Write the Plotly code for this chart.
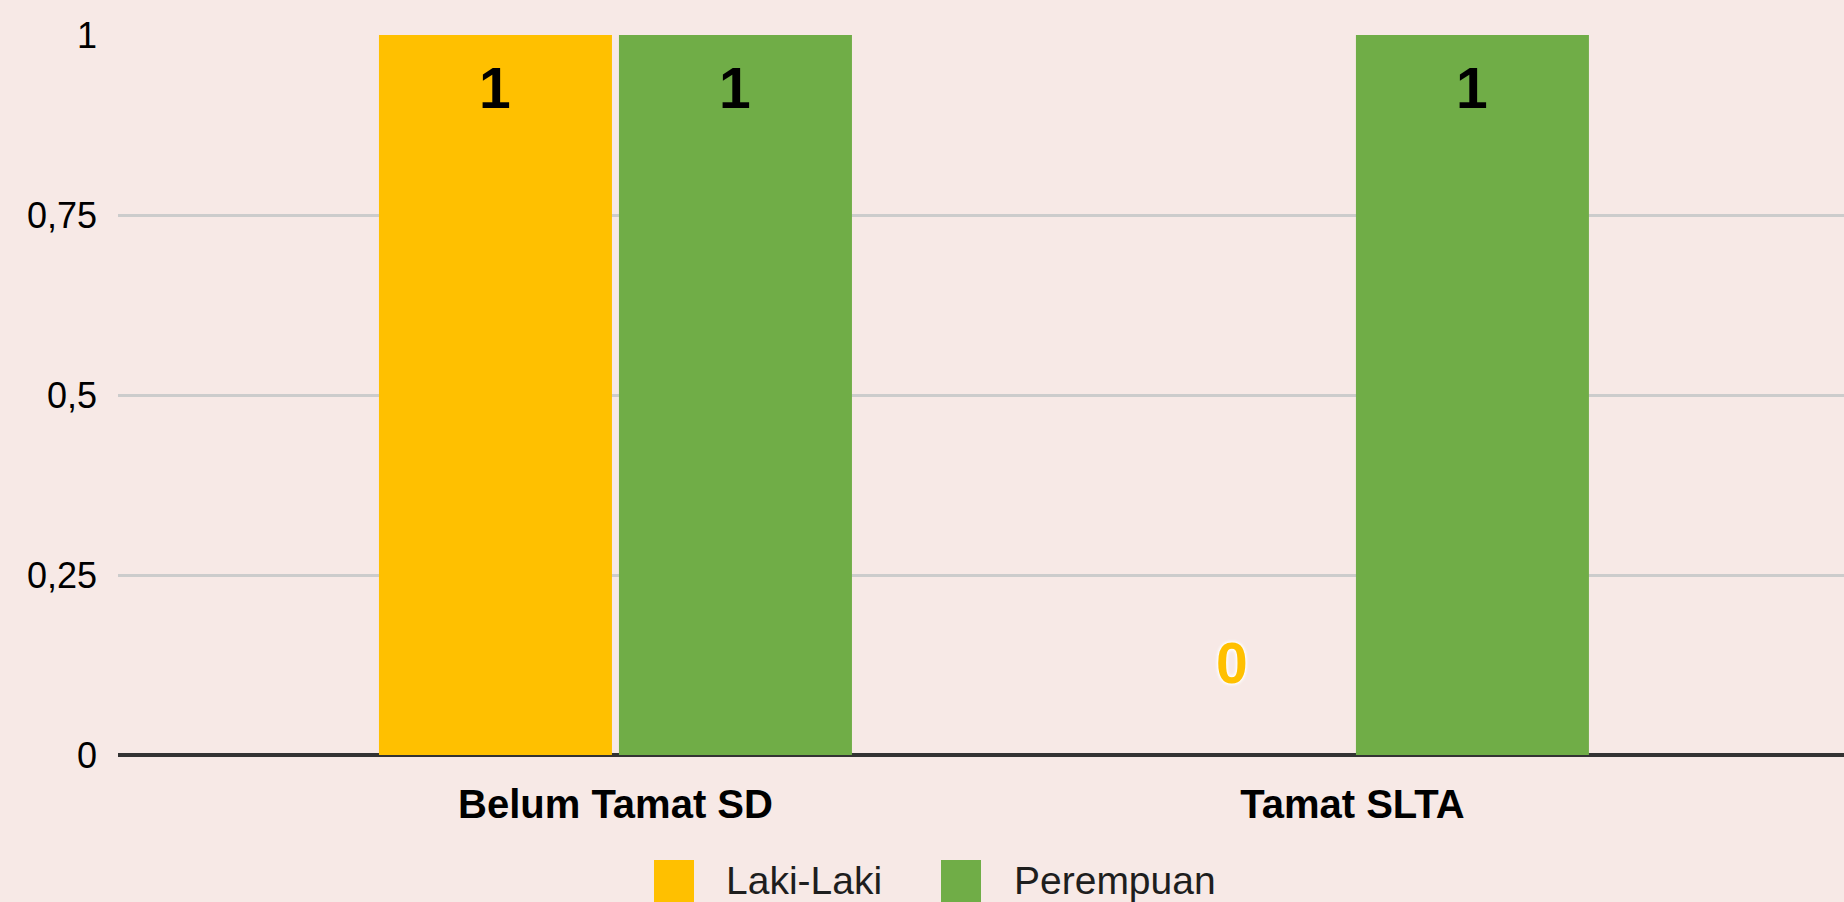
import plotly.graph_objects as go

categories = ["Belum Tamat SD", "Tamat SLTA"]
series_names = ["Laki-Laki", "Perempuan"]
laki_laki = [1, 0]
perempuan = [1, 1]
y_tick_vals = [0, 0.25, 0.5, 0.75, 1]

colors = ["#FFC000", "#70AD47"]
bg = "#F7E9E6"
FONT = "Liberation Sans"

# pixel geometry of the reference
W, H = 1844, 902
L, R, T, B = 118, 0, 35, 147
plot_w = W - L - R
plot_h = H - T - B

fig = go.Figure()
series = [laki_laki, perempuan]
for name, vals, col in zip(series_names, series, colors):
    fig.add_trace(go.Bar(
        x=categories, y=vals, name=name, marker=dict(color=col, line=dict(width=0)),
        showlegend=False, hoverinfo="x+y+name",
    ))

# value labels
annotations = []
offsets = [-120, 120]
for vals, col, dx in zip(series, colors, offsets):
    for cat, v in zip(categories, vals):
        if v > 0:
            annotations.append(dict(
                x=cat, y=v, xref="x", yref="y", xshift=dx, yshift=-53,
                text=str(v), showarrow=False, yanchor="middle", xanchor="center",
                font=dict(family=FONT, size=57, color="#000000", weight="bold"),
            ))
        else:
            annotations.append(dict(
                x=cat, y=v, xref="x", yref="y", xshift=dx, yshift=92,
                text=str(v), showarrow=False, yanchor="middle", xanchor="center",
                font=dict(family=FONT, size=57, color=col, weight="bold",
                          shadow="0 0 4px #ffffff, 0 0 4px #ffffff, 0 0 3px #ffffff, 0 0 2px #ffffff"),
            ))

# custom legend (large square swatches)
def px2x(px):
    return (px - L) / plot_w

def py2y(py):
    return (H - B - py) / plot_h

shapes = []
swatch_x = [654, 941]
text_x = [724, 1012]
for name, col, sx, tx in zip(series_names, colors, swatch_x, text_x):
    shapes.append(dict(type="rect", xref="paper", yref="paper",
                       x0=px2x(sx), x1=px2x(sx + 40), y0=py2y(860), y1=py2y(902),
                       fillcolor=col, line=dict(width=0)))
    annotations.append(dict(x=px2x(tx), y=py2y(880), xref="paper", yref="paper",
                            text=name, showarrow=False, xanchor="left", yanchor="middle",
                            font=dict(family=FONT, size=39, color="#1e1e1e")))

fig.update_layout(
    width=W, height=H,
    paper_bgcolor=bg, plot_bgcolor=bg,
    margin=dict(l=L, r=R, t=T, b=B, pad=0),
    barmode="group", bargap=0.3487, bargroupgap=0.0292,
    separators=",.",
    showlegend=False,
    annotations=annotations,
    shapes=shapes,
    font=dict(family=FONT, color="#000000"),
    xaxis=dict(
        type="category", range=[-0.675, 1.667], showgrid=False, showline=False,
        ticks="", tickfont=dict(family=FONT, size=40, color="#000000", weight="bold"),
        ticklabelstandoff=22, zeroline=False, fixedrange=True,
    ),
    yaxis=dict(
        range=[0, 1], tickvals=y_tick_vals, showgrid=True, gridcolor="#CCCCCC", gridwidth=3,
        zeroline=True, zerolinecolor="#333333", zerolinewidth=3.5,
        ticks="", tickfont=dict(family=FONT, size=36, color="#000000"),
        ticklabelstandoff=20, showline=False, fixedrange=True,
    ),
)

fig.write_html(
    "out.html",
    config={"displayModeBar": False},
    post_script="document.body.style.margin='0';document.body.style.overflow='hidden';",
)
